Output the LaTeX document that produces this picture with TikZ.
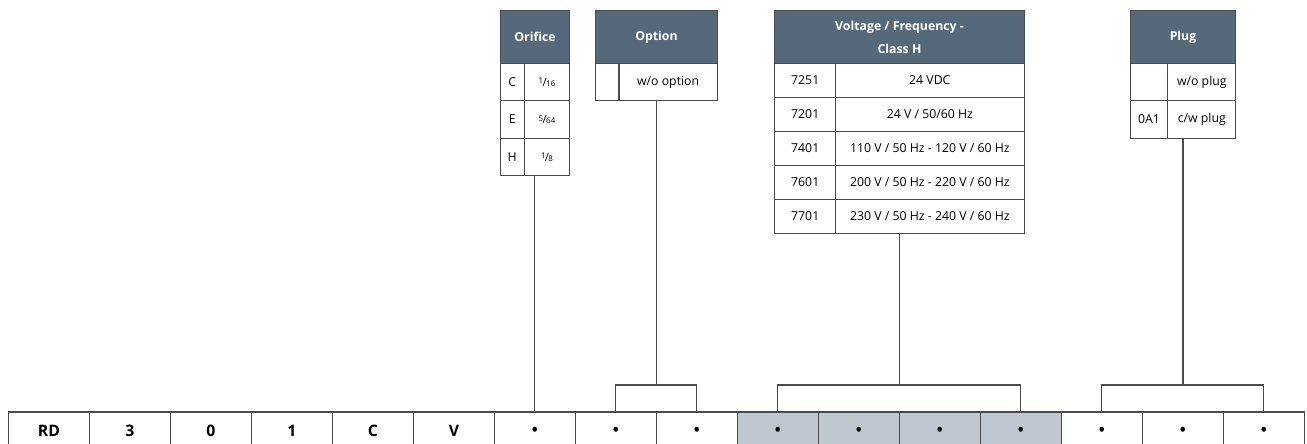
\documentclass[tikz,border=0pt]{standalone}
\usepackage{fontspec}
\setmainfont{Open Sans}
\usetikzlibrary{positioning}
\definecolor{hdrSlate}{HTML}{56697A}
\definecolor{keyGray}{HTML}{C1C7D0}
\definecolor{ruleGray}{HTML}{4A4A4A}
\newcommand{\frc}[2]{%
  {\fontsize{4.5}{5}\selectfont\raisebox{0.6ex}{#1}}\kern-0.05em
  {\fontsize{6.5}{7}\selectfont/}\kern-0.05em
  {\fontsize{4.5}{5}\selectfont #2}}

\begin{document}
\begin{tikzpicture}[x=0.02cm, y=-0.02cm,
    every node/.style={font=\fontsize{7}{8}\selectfont, inner sep=0pt, outer sep=0pt},
    ruled/.style={draw=ruleGray, line width=0.65pt, fill=white},
    head/.style={ruled, fill=hdrSlate, text=white, anchor=north, align=center,
      minimum height=1.052cm, font=\fontsize{7}{13}\selectfont\bfseries},
    tcell/.style={ruled, minimum height=0.75cm},
    vcell/.style={ruled, minimum height=0.68cm},
    key/.style={ruled, minimum width=1.62cm, minimum height=0.76cm,
      font=\fontsize{9}{10}\selectfont\bfseries},
    keyg/.style={key, fill=keyGray},
    wire/.style={ruleGray, line width=0.65pt}]
  \useasboundingbox (0,0) rectangle (1307,443);
  \clip (0,0) rectangle (1307,443);

  % type code row
  \node[key] (k1) at (49,431) {RD};
  \node[key, right=0pt of k1] (k2) {3};
  \node[key, right=0pt of k2] (k3) {0};
  \node[key, right=0pt of k3] (k4) {1};
  \node[key, right=0pt of k4] (k5) {C};
  \node[key, right=0pt of k5] (k6) {V};
  \node[key, right=0pt of k6] (k7) {\textbullet};
  \node[key, right=0pt of k7] (k8) {\textbullet};
  \node[key, right=0pt of k8] (k9) {\textbullet};
  \node[keyg, right=0pt of k9] (k10) {\textbullet};
  \node[keyg, right=0pt of k10] (k11) {\textbullet};
  \node[keyg, right=0pt of k11] (k12) {\textbullet};
  \node[keyg, right=0pt of k12] (k13) {\textbullet};
  \node[key, right=0pt of k13] (k14) {\textbullet};
  \node[key, right=0pt of k14] (k15) {\textbullet};
  \node[key, right=0pt of k15] (k16) {\textbullet};

  % orifice
  \node[head, minimum width=1.39cm] (ori) at (535,10.7) {Orifice};
  \node[tcell, minimum width=0.48cm, anchor=north west] (oriC) at (ori.south west) {C};
  \node[tcell, minimum width=0.91cm, right=0pt of oriC] (oriCv) {\frc{1}{16}};
  \node[tcell, minimum width=0.48cm, below=0pt of oriC] (oriE) {E};
  \node[tcell, minimum width=0.91cm, right=0pt of oriE] (oriEv) {\frc{5}{64}};
  \node[tcell, minimum width=0.48cm, below=0pt of oriE] (oriH) {H};
  \node[tcell, minimum width=0.91cm, right=0pt of oriH] (oriHv) {\frc{1}{8}};

  % option
  \node[head, minimum width=2.434cm] (opt) at (656.5,10.7) {Option};
  \node[tcell, minimum width=0.466cm, anchor=north west] (optN) at (opt.south west) {};
  \node[tcell, minimum width=1.968cm, right=0pt of optN] (optNv) {w/o option};

  % voltage / frequency
  \node[head, minimum width=4.986cm] (volt) at (899.5,10.7) {Voltage / Frequency -\\Class H};
  \node[vcell, minimum width=1.214cm, anchor=north west] (v1) at (volt.south west) {7251};
  \node[vcell, minimum width=3.772cm, right=0pt of v1] (v1v) {24 VDC};
  \node[vcell, minimum width=1.214cm, below=0pt of v1] (v2) {7201};
  \node[vcell, minimum width=3.772cm, right=0pt of v2] (v2v) {24 V / 50/60 Hz};
  \node[vcell, minimum width=1.214cm, below=0pt of v2] (v3) {7401};
  \node[vcell, minimum width=3.772cm, right=0pt of v3] (v3v) {110 V / 50 Hz - 120 V / 60 Hz};
  \node[vcell, minimum width=1.214cm, below=0pt of v3] (v4) {7601};
  \node[vcell, minimum width=3.772cm, right=0pt of v4] (v4v) {200 V / 50 Hz - 220 V / 60 Hz};
  \node[vcell, minimum width=1.214cm, below=0pt of v4] (v5) {7701};
  \node[vcell, minimum width=3.772cm, right=0pt of v5] (v5v) {230 V / 50 Hz - 240 V / 60 Hz};

  % plug
  \node[head, minimum width=2.114cm] (plug) at (1183,10.7) {Plug};
  \node[tcell, minimum width=0.754cm, anchor=north west] (pl1) at (plug.south west) {};
  \node[tcell, minimum width=1.36cm, right=0pt of pl1] (pl1v) {w/o plug};
  \node[tcell, minimum width=0.754cm, below=0pt of pl1] (pl2) {0A1};
  \node[tcell, minimum width=1.36cm, right=0pt of pl2] (pl2v) {c/w plug};

  % connectors
  \coordinate (brY) at (0,385);
  \coordinate (optJ) at (opt.south |- brY);
  \coordinate (voltJ) at (volt.south |- brY);
  \coordinate (plugJ) at (plug.south |- brY);
  \draw[wire] (k7.north |- oriHv.south) -- (k7.north);
  \draw[wire] (optJ |- optNv.south) -- (optJ);
  \draw[wire] (k8.north) |- (optJ) -| (k9.north);
  \draw[wire] (voltJ |- v5v.south) -- (voltJ);
  \draw[wire] (k10.north) |- (voltJ) -| (k13.north);
  \draw[wire] (plugJ |- pl2v.south) -- (plugJ);
  \draw[wire] (k14.north) |- (plugJ) -| (k16.north);
\end{tikzpicture}
\end{document}
